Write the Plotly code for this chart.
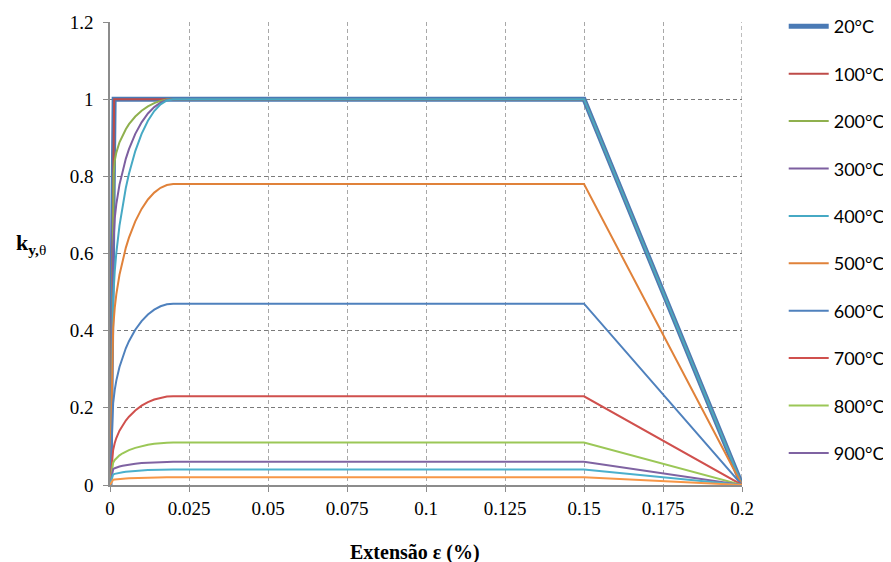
import plotly.graph_objects as go

# Strain points (fraction) and reduction factor readings per temperature
labels = ["20°C", "100°C", "200°C", "300°C", "400°C", "500°C", "600°C", "700°C", "800°C", "900°C", "1000°C", "1100°C"]
in_legend = [True] * 10 + [False, False]
colors = ["#4A7AB5", "#BE4B48", "#8FB04E", "#7D5FA0", "#46A9C4", "#E0823A",
          "#4F81BD", "#D0504D", "#9BC757", "#7F63A2", "#4BB0CC", "#F79646"]
widths = [5, 2, 2, 2, 2, 2, 2, 2, 2, 2, 2, 2]

eps_ell = [0.0015, 0.002, 0.003, 0.004, 0.005, 0.006, 0.008, 0.010, 0.012, 0.014, 0.016, 0.018, 0.020]

x_20 = [0, 0.00131, 0.02, 0.15, 0.20]
y_20 = [0, 1.0, 1.0, 1.0, 0.0]
x_100 = [0, 0.00131, 0.02, 0.15, 0.20]
y_100 = [0, 1.0, 1.0, 1.0, 0.0]

x_200 = [0, 0.001174] + eps_ell + [0.15, 0.20]
y_200 = [0, 0.807, 0.8405, 0.8615, 0.8883, 0.9073, 0.922, 0.9351, 0.9550, 0.9701, 0.9814, 0.9898, 0.9955, 0.9989, 1.0, 1.0, 0.0]

x_300 = [0, 0.001003] + eps_ell + [0.15, 0.20]
y_300 = [0, 0.613, 0.6912, 0.7280, 0.7785, 0.8156, 0.8454, 0.8703, 0.9100, 0.9400, 0.9628, 0.9795, 0.9910, 0.9978, 1.0, 1.0, 0.0]

x_400 = [0, 0.000786, 0.001] + eps_ell + [0.15, 0.20]
y_400 = [0, 0.42, 0.4820, 0.5535, 0.6017, 0.6725, 0.7261, 0.7697, 0.8065, 0.8655, 0.9102, 0.9442, 0.9693, 0.9866, 0.9967, 1.0, 1.0, 0.0]

x_500 = [0, 0.000786, 0.001] + eps_ell + [0.15, 0.20]
y_500 = [0, 0.36, 0.4072, 0.4592, 0.4939, 0.5448, 0.5834, 0.6147, 0.6411, 0.6834, 0.7156, 0.7400, 0.7579, 0.7703, 0.7776, 0.78, 0.78, 0.0]

x_600 = [0, 0.000760, 0.001] + eps_ell + [0.15, 0.20]
y_600 = [0, 0.18, 0.2121, 0.2467, 0.2705, 0.3057, 0.3325, 0.3544, 0.3728, 0.4023, 0.4248, 0.4419, 0.4546, 0.4632, 0.4683, 0.47, 0.47, 0.0]

x_700 = [0, 0.000756, 0.001] + eps_ell + [0.15, 0.20]
y_700 = [0, 0.075, 0.0908, 0.1090, 0.1218, 0.1408, 0.1553, 0.1671, 0.1771, 0.1932, 0.2055, 0.2147, 0.2216, 0.2263, 0.2291, 0.23, 0.23, 0.0]

x_800 = [0, 0.000728, 0.001] + eps_ell + [0.15, 0.20]
y_800 = [0, 0.05, 0.0580, 0.0649, 0.0697, 0.0768, 0.0822, 0.0866, 0.0904, 0.0963, 0.1009, 0.1043, 0.1069, 0.1086, 0.1097, 0.11, 0.11, 0.0]

x_900 = [0, 0.000728, 0.001] + eps_ell + [0.15, 0.20]
y_900 = [0, 0.0375, 0.0409, 0.0434, 0.0452, 0.0478, 0.0498, 0.0514, 0.0528, 0.0550, 0.0567, 0.0579, 0.0589, 0.0595, 0.0599, 0.06, 0.06, 0.0]

x_1000 = [0, 0.000728, 0.001] + eps_ell + [0.15, 0.20]
y_1000 = [0, 0.025, 0.0273, 0.0289, 0.0301, 0.0319, 0.0332, 0.0343, 0.0352, 0.0367, 0.0378, 0.0386, 0.0393, 0.0397, 0.0399, 0.04, 0.04, 0.0]

x_1100 = [0, 0.000728, 0.001] + eps_ell + [0.15, 0.20]
y_1100 = [0, 0.0125, 0.0136, 0.0145, 0.0151, 0.0159, 0.0166, 0.0171, 0.0176, 0.0183, 0.0189, 0.0193, 0.0196, 0.0198, 0.0200, 0.02, 0.02, 0.0]

xs = [x_20, x_100, x_200, x_300, x_400, x_500, x_600, x_700, x_800, x_900, x_1000, x_1100]
ys = [y_20, y_100, y_200, y_300, y_400, y_500, y_600, y_700, y_800, y_900, y_1000, y_1100]

x_ticks = [0, 0.025, 0.05, 0.075, 0.1, 0.125, 0.15, 0.175, 0.2]
x_tick_text = ["0", "0.025", "0.05", "0.075", "0.1", "0.125", "0.15", "0.175", "0.2"]
y_ticks = [0, 0.2, 0.4, 0.6, 0.8, 1.0, 1.2]
y_tick_text = ["0", "0.2", "0.4", "0.6", "0.8", "1", "1.2"]

fig = go.Figure()
for i in range(len(labels)):
    fig.add_trace(go.Scatter(
        x=xs[i], y=ys[i], mode="lines", name=labels[i],
        line=dict(color=colors[i], width=widths[i]),
        showlegend=in_legend[i], legendgroup=labels[i],
    ))

serif = "Liberation Serif"
fig.update_layout(
    width=883, height=554,
    margin=dict(l=102, r=149, t=13.5, b=76.5, autoexpand=False),
    plot_bgcolor="white", paper_bgcolor="white",
    showlegend=True,
    legend=dict(
        x=1.066, y=1.03, xanchor="left", yanchor="top",
        font=dict(family="Lato", size=18, color="#000000"),
        tracegroupgap=21, itemwidth=40, maxheight=1.0,
        bgcolor="rgba(0,0,0,0)",
    ),
    xaxis=dict(
        range=[0, 0.2], tickvals=x_ticks, ticktext=x_tick_text,
        showgrid=True, gridcolor="#A8A8A8", griddash="4px,3px", gridwidth=1,
        showline=True, linecolor="#8C8C8C", linewidth=1.5,
        ticks="outside", ticklen=5, tickcolor="#8C8C8C",
        tickfont=dict(family=serif, size=19, color="#000000"),
        zeroline=False, automargin=False,
    ),
    yaxis=dict(
        range=[0, 1.2], tickvals=y_ticks, ticktext=y_tick_text,
        showgrid=True, gridcolor="#7A7A7A", griddash="4px,3px", gridwidth=1,
        showline=True, linecolor="#8C8C8C", linewidth=1.5,
        ticks="outside", ticklen=5, tickcolor="#8C8C8C",
        tickfont=dict(family=serif, size=19, color="#000000"),
        ticklabelstandoff=6,
        zeroline=False, automargin=False,
    ),
)
fig.add_shape(type="line", xref="x", yref="paper", x0=0.2, x1=0.2, y0=0, y1=1,
              line=dict(color="#7A7A7A", width=1, dash="4px,3px"), layer="below")
fig.add_annotation(text="<b>k</b><sub><b>y,</b>θ</sub>", xref="paper", yref="paper",
                   x=-0.098, y=0.52, showarrow=False, xanchor="right",
                   font=dict(family=serif, size=22, color="#000000"))
fig.add_annotation(text="<b>Extensão ε (%)</b>", xref="paper", yref="paper",
                   x=0.483, y=-0.116, showarrow=False, yanchor="top",
                   font=dict(family=serif, size=20, color="#000000"))
fig.write_html("out.html")
